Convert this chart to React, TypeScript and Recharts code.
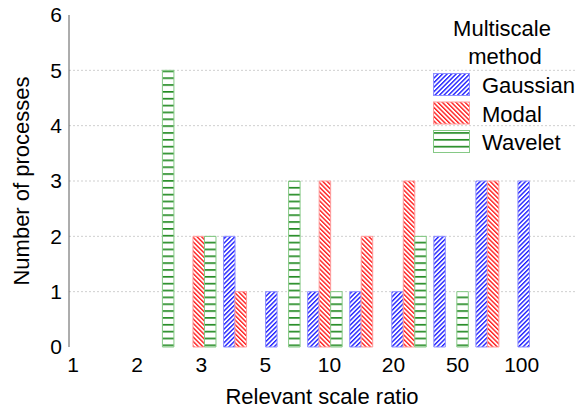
import { BarChart, Bar, XAxis, YAxis, CartesianGrid, Legend } from "recharts"

// histogram bins along the relevant scale ratio
const bins = ["b1", "b2", "b3", "b4", "b5", "b6", "b7", "b8", "b9", "b10", "b11", "b12"]
const gaussian = [0, 0, 0, 0, 2, 1, 1, 1, 1, 2, 3, 3]
const modal = [0, 0, 0, 2, 1, 0, 3, 2, 3, 0, 3, 0]
const wavelet = [0, 0, 5, 2, 0, 3, 1, 0, 2, 1, 0, 0]

const ratioLabels = ["1", "2", "3", "5", "10", "20", "50", "100"]
const yTicks = [0, 1, 2, 3, 4, 5, 6]
const gridValues = [1, 2, 3, 4, 5]
const seriesNames = ["Gaussian", "Modal", "Wavelet"]

const rows = bins.map((bin, i) => ({
    bin,
    pos: i,
    gaussian: gaussian[i],
    modal: modal[i],
    wavelet: wavelet[i],
}))
const binEdges = bins.map((_, i) => i + 0.5)
const labelTicks = ratioLabels.map((_, i) => i)

const FONT = "'Liberation Sans', Arial, sans-serif"
const AXIS = "#5a5a5a"
const PAD = { left: -17.7, right: 19 }

const fills = ["url(#hatchBlue)", "url(#hatchRed)", "url(#hatchGreen)"]
const borders = ["#8f8fff", "#ff9a9a", "#86c986"]

function LegendBox(props: any) {
    const items = props.payload || []
    return (
        <svg width={150} height={160} style={{ display: "block", fontFamily: FONT }}>
            <text x={77} y={36} textAnchor="middle" fontSize={22} fill="#000">Multiscale</text>
            <text x={80} y={64} textAnchor="middle" fontSize={22} fill="#000">method</text>
            {items.map((it: any, i: number) => (
                <g key={it.value}>
                    <rect x={8.5} y={73.5 + i * 28.5} width={36} height={22} fill={fills[i]} stroke={borders[i]} />
                    <text x={57} y={93 + i * 28.5} fontSize={22} fill="#000">{it.value}</text>
                </g>
            ))}
        </svg>
    )
}

export default function App() {
    return (
        <div style={{ position: "absolute", left: 0, top: 0, fontFamily: FONT }}>
            <BarChart width={575} height={413} data={rows} margin={{ top: 15, right: 0, left: 0, bottom: 0 }} barGap={0} barSize={11.5}>
                <defs>
                    <pattern id="hatchBlue" patternUnits="userSpaceOnUse" width={3.2} height={3.2} patternTransform="rotate(45)">
                        <rect width={3.2} height={3.2} fill="#fff" />
                        <line x1={0.7} y1={0} x2={0.7} y2={3.2} stroke="#1f1fff" strokeWidth={1.4} />
                    </pattern>
                    <pattern id="hatchRed" patternUnits="userSpaceOnUse" width={3.2} height={3.2} patternTransform="rotate(-45)">
                        <rect width={3.2} height={3.2} fill="#fff" />
                        <line x1={0.7} y1={0} x2={0.7} y2={3.2} stroke="#ff1f1f" strokeWidth={1.4} />
                    </pattern>
                    <pattern id="hatchGreen" patternUnits="userSpaceOnUse" width={6} height={6.85}>
                        <rect width={6} height={6.85} fill="#fff" />
                        <rect y={2} width={6} height={1.6} fill="#1a861a" />
                    </pattern>
                </defs>
                <CartesianGrid vertical={false} horizontalValues={gridValues} stroke="#cfcfcf" strokeDasharray="2 2" />
                <XAxis xAxisId="edges" dataKey="pos" type="number" domain={[-0.5, bins.length - 0.5]} allowDataOverflow ticks={binEdges} interval={0}
                    padding={PAD} height={0} mirror tick={false} tickSize={3} stroke={AXIS} />
                <XAxis xAxisId="labels" dataKey="pos" type="number" domain={[-0.339, 7.535]} allowDataOverflow ticks={labelTicks} interval={0}
                    padding={PAD} height={66} axisLine={false} tickLine={false} tickSize={0} tickMargin={10}
                    tickFormatter={(v: number) => ratioLabels[v]} tick={{ fontSize: 21, fill: "#000" }}
                    label={{ value: "Relevant scale ratio", position: "insideBottom", offset: 9, fontSize: 22, fill: "#000" }} />
                <XAxis xAxisId="bins" dataKey="bin" type="category" padding={PAD} hide height={0} />
                <YAxis width={69} domain={[0, 6]} ticks={yTicks} interval={0} tickLine={false} tickSize={0} tickMargin={7}
                    stroke={AXIS} tick={{ fontSize: 21, fill: "#000" }}
                    label={{ value: "Number of processes", angle: -90, position: "insideLeft", offset: 21, fontSize: 22, fill: "#000", style: { textAnchor: "middle" } }} />
                <Legend layout="vertical" verticalAlign="middle" align="center" content={LegendBox}
                    wrapperStyle={{ left: 425, top: 0, width: 150, height: 160, overflow: "hidden" }} />
                <Bar xAxisId="bins" dataKey="gaussian" name={seriesNames[0]} fill={fills[0]} stroke={borders[0]} strokeWidth={1} isAnimationActive={false} />
                <Bar xAxisId="bins" dataKey="modal" name={seriesNames[1]} fill={fills[1]} stroke={borders[1]} strokeWidth={1} isAnimationActive={false} />
                <Bar xAxisId="bins" dataKey="wavelet" name={seriesNames[2]} fill={fills[2]} stroke={borders[2]} strokeWidth={1} isAnimationActive={false} />
            </BarChart>
        </div>
    )
}
